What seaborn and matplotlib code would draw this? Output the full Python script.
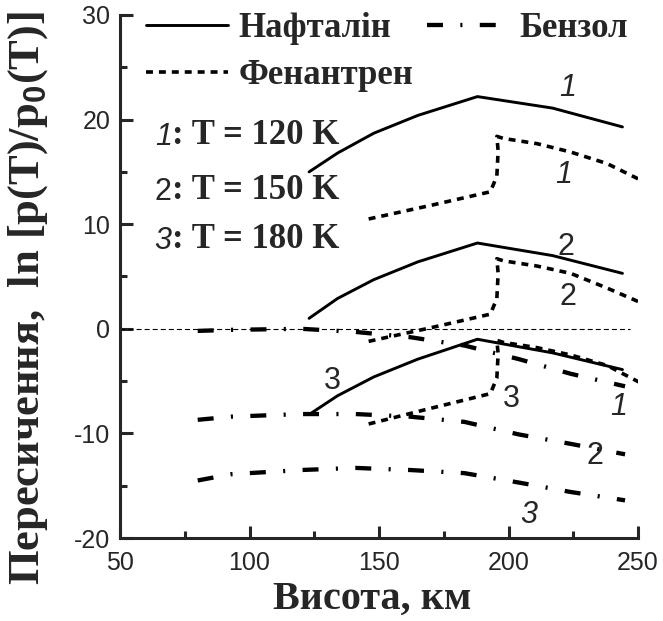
import matplotlib
matplotlib.use("Agg")
import matplotlib.pyplot as plt
import seaborn as sns
import pandas as pd
from matplotlib.lines import Line2D

# altitudes (km) and supersaturation ln[p/p0]
nap_h = [123, 134, 148, 165, 188, 217, 244]
nap_120 = [15.0, 16.8, 18.7, 20.4, 22.2, 21.1, 19.3]
nap_150 = [1.0, 2.9, 4.7, 6.4, 8.2, 7.0, 5.3]
nap_180 = [-8.2, -6.4, -4.6, -2.9, -1.0, -2.3, -3.9]

phen_h = [146, 170, 193, 195.5, 196, 195.5, 198, 211, 224, 238, 252]
phen_120 = [10.5, 11.8, 13.1, 14.6, 17.0, 18.4, 18.2, 17.7, 16.9, 15.8, 14.1]
phen_150 = [-1.2, 0.1, 1.4, 2.9, 5.3, 6.7, 6.5, 6.0, 5.3, 3.9, 2.4]
phen_180 = [-9.1, -7.6, -6.2, -4.7, -2.4, -1.1, -1.3, -1.8, -2.5, -3.5, -5.3]

benz_h = [80, 93, 120, 141, 162, 183, 204, 224, 245]
benz_120 = [-0.2, -0.1, 0.0, -0.3, -0.8, -1.6, -2.9, -4.3, -5.5]
benz_150 = [-8.7, -8.4, -8.15, -8.15, -8.4, -8.9, -10.1, -11.0, -12.0]
benz_180 = [-14.5, -13.9, -13.5, -13.3, -13.5, -13.8, -14.7, -15.6, -16.4]

legend_names = ["Нафталін", "Фенантрен", "Бензол"]
temp_labels = [("1", ": T = 120 K"), ("2", ": T = 150 K"), ("3", ": T = 180 K")]
temp_label_y = [18.35, 13.05, 8.35]

# curve number labels: (text, x, y, italic)
curve_labels = [
    ("1", 223, 23.0, True), ("1", 221.5, 14.7, True),
    ("2", 222, 7.8, False), ("2", 223, 3.0, False),
    ("3", 132, -5.0, False), ("3", 201, -6.7, False),
    ("1", 242.5, -7.5, True), ("2", 233.5, -12.2, False),
    ("3", 208, -17.8, True),
]

sns.set_theme(style="ticks")
plt.rcParams["font.family"] = ["Liberation Serif", "DejaVu Serif"]
plt.rcParams["axes.unicode_minus"] = False
plt.rcParams["mathtext.fontset"] = "custom"
plt.rcParams["mathtext.bf"] = "Liberation Sans:bold"
plt.rcParams["lines.scale_dashes"] = False

fig = plt.figure(figsize=(6.63, 6.21), dpi=100)
ax = fig.add_axes([120 / 663, 1 - 538 / 621, 518 / 663, 523 / 621])

solid = dict(color="black", lw=2.1, linestyle="-")
dashed = dict(color="black", lw=2.6, linestyle=(0, (5, 4.3)))
dashdot = dict(color="black", lw=3.1, linestyle=(0, (11.5, 12.5, 1.5, 12.5)))

for ys in (nap_120, nap_150, nap_180):
    sns.lineplot(data=pd.DataFrame({"h": nap_h, "v": ys}), x="h", y="v",
                 ax=ax, estimator=None, sort=False, **solid)
for ys in (phen_120, phen_150, phen_180):
    sns.lineplot(data=pd.DataFrame({"h": phen_h, "v": ys}), x="h", y="v",
                 ax=ax, estimator=None, sort=False, **dashed)
for ys in (benz_120, benz_150, benz_180):
    sns.lineplot(data=pd.DataFrame({"h": benz_h, "v": ys}), x="h", y="v",
                 ax=ax, estimator=None, sort=False, **dashdot)

ax.axhline(0, xmax=0.985, color="black", lw=0.8, linestyle=(0, (3.6, 2.2)))

ax.set_xlim(50, 250)
ax.set_ylim(-20, 30)
ax.set_xticks([50, 100, 150, 200, 250])
ax.set_xticks([75, 125, 175, 225], minor=True)
ax.set_yticks([-20, -10, 0, 10, 20, 30])
ax.set_yticks([-15, -5, 5, 15, 25], minor=True)
ax.tick_params(which="both", direction="in", width=2.2, labelsize=18,
               labelfontfamily="Liberation Sans")
ax.tick_params(which="major", length=9)
ax.tick_params(which="minor", length=5)
ax.tick_params(axis="y", pad=7)
ax.tick_params(axis="x", pad=9)
sns.despine(ax=ax)
for s in ("left", "bottom"):
    ax.spines[s].set_linewidth(2.2)

ax.set_xlabel("Висота, км", fontsize=29, fontweight="bold")
ax.xaxis.set_label_coords(0.486, -0.082)
ax.set_ylabel("")
fig.text(28 / 663, 1 - 298 / 621,
         r"Пересичення,  ln [p(T)/p$_\mathbf{0}$(T)]",
         rotation=90, ha="center", va="center", fontsize=32, fontweight="bold")

handles = [Line2D([], [], **solid), Line2D([], [], **dashed), Line2D([], [], **dashdot)]
ax.legend(handles, legend_names, ncol=2, loc="upper left",
          bbox_to_anchor=(0.051, 1.006), frameon=False, borderpad=0,
          borderaxespad=0, handlelength=2.35, handletextpad=0.3,
          columnspacing=0.4, labelspacing=0.4,
          prop={"family": "Liberation Serif", "weight": "bold", "size": 25})

for num, rest, y in zip([a for a, b in temp_labels], [b for a, b in temp_labels], temp_label_y):
    t = ax.text(63.4, y, num, fontsize=22, family="Liberation Sans",
                style="normal" if num == "2" else "italic", va="center")
    ax.annotate(rest, xy=(1, 0), xycoords=t, va="bottom", fontsize=25,
                fontweight="bold")

for txt, x, y, it in curve_labels:
    ax.text(x, y, txt, fontsize=22, family="Liberation Sans",
            style="italic" if it else "normal", ha="center", va="center")

fig.savefig("out.png", dpi=100)
